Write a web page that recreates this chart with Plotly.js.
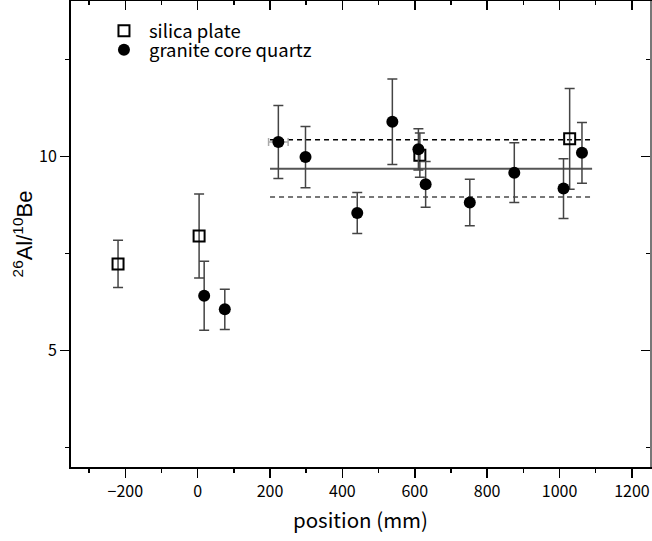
<!DOCTYPE html>
<html>
<head>
<meta charset="utf-8">
<script src="https://cdn.plot.ly/plotly-3.0.1.min.js"></script>
<style>html,body{margin:0;padding:0;background:#fff;}#chart{width:652px;height:541px;}</style>
</head>
<body>
<div id="chart"></div>
<script>
// Silica plate (open squares)
const silicaX = [-220, 4, 614, 1028];
const silicaY = [7.23, 7.95, 10.03, 10.45];
const silicaErr = [0.61, 1.08, 0.57, 1.30];

// Granite core quartz (filled circles)
const graniteX = [18, 75, 223, 298, 441, 538, 610, 630, 752, 875, 1011, 1062];
const graniteY = [6.41, 6.06, 10.37, 9.98, 8.54, 10.89, 10.18, 9.28, 8.81, 9.58, 9.17, 10.09];
const graniteErr = [0.89, 0.52, 0.94, 0.79, 0.53, 1.10, 0.53, 0.59, 0.60, 0.77, 0.77, 0.78];

// Horizontal uncertainty shown on one point
const hErrX = [223];
const hErrY = [10.37];
const hErr = [27];

// Mean and band lines
const bandX = [200, 1090];
const meanVal = 9.68;
const upperVal = 10.43;
const lowerVal = 8.95;

const xTickVals = [-200, 0, 200, 400, 600, 800, 1000, 1200];
const yTickVals = [5, 10];

const jpFont = '"Noto Sans CJK JP", "Liberation Sans", sans-serif';
const tickFont = {family: jpFont, size: 16, color: '#000'};
const legFont = {family: jpFont, size: 18.5, color: '#000'};

const traces = [
  {x: bandX, y: [meanVal, meanVal], mode: 'lines', line: {color: '#555', width: 2}, showlegend: false, hoverinfo: 'skip'},
  {x: bandX, y: [upperVal, upperVal], mode: 'lines', line: {color: '#000', width: 1.5, dash: '5px,4px'}, showlegend: false, hoverinfo: 'skip'},
  {x: bandX, y: [lowerVal, lowerVal], mode: 'lines', line: {color: '#777', width: 2, dash: '5px,4px'}, showlegend: false, hoverinfo: 'skip'},
  {x: hErrX, y: hErrY, mode: 'markers', marker: {size: 1, color: 'rgba(0,0,0,0)'}, showlegend: false, hoverinfo: 'skip',
   error_x: {type: 'data', array: hErr, visible: true, color: '#aaa', thickness: 1.5, width: 4}},
  {x: silicaX, y: silicaY, name: 'silica plate', mode: 'markers', legend: 'legend',
   marker: {symbol: 'square-open', size: 11, color: '#000', line: {width: 2}},
   error_y: {type: 'data', array: silicaErr, visible: true, color: '#444', thickness: 1.5, width: 5}},
  {x: graniteX, y: graniteY, name: 'granite core quartz', mode: 'markers', legend: 'legend2',
   marker: {symbol: 'circle', size: 12, color: '#000'},
   error_y: {type: 'data', array: graniteErr, visible: true, color: '#444', thickness: 1.5, width: 5}},
  {x: [null], y: [null], xaxis: 'x2', yaxis: 'y2', showlegend: false, hoverinfo: 'skip'}
];

const layout = {
  width: 652, height: 541,
  margin: {l: 71, r: 2, t: 1, b: 74},
  paper_bgcolor: '#fff', plot_bgcolor: '#fff',
  showlegend: true,
  legend: {x: 0.0483, y: 0.976, xanchor: 'left', yanchor: 'top', bgcolor: 'rgba(0,0,0,0)',
    font: legFont, itemwidth: 40, borderwidth: 0},
  legend2: {x: 0.0483, y: 0.935, xanchor: 'left', yanchor: 'top', bgcolor: 'rgba(0,0,0,0)',
    font: legFont, itemwidth: 40, borderwidth: 0},
  xaxis: {
    range: [-350, 1250], tickmode: 'array', tickvals: xTickVals,
    ticks: 'outside', ticklen: 9, tickwidth: 1.5, tickcolor: '#000',
    minor: {dtick: 100, tick0: 0, ticks: 'outside', ticklen: 4, tickwidth: 1.5, tickcolor: '#000', showgrid: false},
    showline: true, linecolor: '#000', linewidth: 2, showgrid: false, zeroline: false,
    tickfont: tickFont,
    title: {text: 'position (mm)', font: {family: jpFont, size: 20.5, color: '#000'}, standoff: 12}
  },
  yaxis: {
    range: [2, 14], tickmode: 'array', tickvals: yTickVals,
    ticks: 'outside', ticklen: 9, tickwidth: 1.5, tickcolor: '#000',
    minor: {dtick: 2.5, tick0: 0, ticks: 'outside', ticklen: 4, tickwidth: 1.5, tickcolor: '#000', showgrid: false},
    showline: true, linecolor: '#000', linewidth: 2, showgrid: false, zeroline: false,
    tickfont: tickFont,
    title: {text: '<sup>26</sup>Al/<sup>10</sup>Be', font: {family: '"Liberation Sans", Arial, sans-serif', size: 22, color: '#000'}, standoff: 0}
  },
  xaxis2: {
    overlaying: 'x', side: 'top', anchor: 'y2', matches: 'x', range: [-350, 1250],
    tickmode: 'array', tickvals: xTickVals, showticklabels: false,
    ticks: 'inside', ticklen: 9, tickwidth: 1.5, tickcolor: '#000',
    minor: {dtick: 100, tick0: 0, ticks: 'inside', ticklen: 4, tickwidth: 1.5, tickcolor: '#000', showgrid: false},
    showline: true, linecolor: '#000', linewidth: 2, showgrid: false, zeroline: false
  },
  yaxis2: {
    overlaying: 'y', side: 'right', anchor: 'x2', range: [2, 14],
    tickmode: 'array', tickvals: yTickVals, showticklabels: false,
    ticks: 'inside', ticklen: 9, tickwidth: 1.5, tickcolor: '#000',
    minor: {dtick: 2.5, tick0: 0, ticks: 'inside', ticklen: 4, tickwidth: 1.5, tickcolor: '#000', showgrid: false},
    showline: true, linecolor: '#777', linewidth: 1.5, showgrid: false, zeroline: false
  }
};

Plotly.newPlot('chart', traces, layout, {staticPlot: true});
</script>
</body>
</html>
